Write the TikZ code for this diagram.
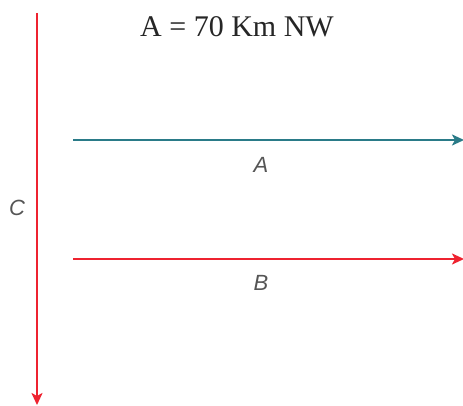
\documentclass[tikz,border=0pt]{standalone}
\usepackage{fontspec}
\setmainfont{Liberation Serif}
\newfontfamily\lblfont{Liberation Sans}
\usetikzlibrary{arrows.meta}
\definecolor{teal1}{HTML}{2A7B88}
\definecolor{red1}{HTML}{EE2330}
\definecolor{txtgray}{HTML}{555555}
\tikzset{
  vec/.style={line width=2.4pt,-{Stealth[length=12pt,width=11pt,inset=3pt]}},
  lbl/.style={font=\lblfont\itshape\fontsize{22}{26}\selectfont,text=txtgray,inner sep=0pt},
}
\begin{document}
\begin{tikzpicture}[x=1pt,y=1pt]
\useasboundingbox (0,0) rectangle (463,405);
\node[font=\fontsize{30}{36}\selectfont,text=black!85,inner sep=0pt] (title) at (237,378) {A = 70 Km NW};
\coordinate (cs) at (37,392);
\coordinate (ce) at (37,0);
\coordinate (as) at (73,265);
\coordinate (ae) at (464,265);
\coordinate (bs) at (73,146);
\coordinate (be) at (464,146);
\draw[vec,red1] (cs) -- (ce);
\draw[vec,teal1] (as) -- (ae);
\draw[vec,red1] (bs) -- (be);
\node[lbl] (la) at (261,240) {A};
\node[lbl] (lb) at (261,122) {B};
\node[lbl] (lc) at (17,197) {C};
\end{tikzpicture}
\end{document}
